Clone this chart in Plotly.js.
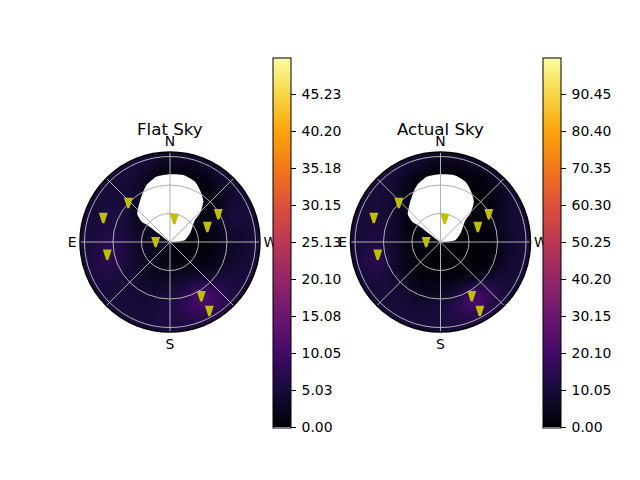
<!DOCTYPE html>
<html><head><meta charset="utf-8">
<script src="https://cdn.plot.ly/plotly-3.0.1.min.js"></script>
<style>html,body{margin:0;padding:0;background:#fff}</style></head>
<body><div id="chart" style="width:640px;height:480px"></div>
<script>
const gridAxis = [-95,-85.5,-76,-66.5,-57,-47.5,-38,-28.5,-19,-9.5,0,9.5,19,28.5,38,47.5,57,66.5,76,85.5,95];
const flatSky = [
[5,5,5,5,5,5,5,5,5,5,5,5,5,5,5,5,5,5,5,5,5],
[5,5,5,5,5,5,5,5,4,3.5,3,3,3,4,4,5,5,5,5,5,5],
[5,5,5,5,5,5,5,4,3,2,1.5,1.5,1.5,2,3,4,5,5,5,5,5],
[5,5,5,5,5,5,4.5,3,1.5,1,0.8,0.8,0.8,1,1.5,3,4,5,5,5,5],
[5,5,5,5,5,4.5,4,2.5,1,0.8,0.8,0.8,0.8,0.8,1,2,3,4,5,5,5],
[5,5,5,5,5,5,4,2,1,0.8,0.8,0.8,0.8,0.8,0.8,1.5,3,4,5,5,5],
[5,5,5,5.5,5.5,5,3.5,1.5,0.8,0.8,0.8,0.8,0.8,0.8,0.8,1.5,3.5,5,5,5,5],
[5,5,5.5,6,6,5,3.5,1.5,0.8,0.8,0.8,0.8,0.8,0.8,1,2.5,4,5.5,5,5,5],
[5,5,5.5,6,6,5,3.5,2,1,0.8,0.8,0.8,0.8,1,2,3,4,5,5,5,5],
[5,5,5.5,6,6,5,4,3,2.5,2.5,1,0.8,0.8,0.8,1,2,3,4,4,5,5],
[5,5,6,6.5,6.5,5.5,4,3,3,4,1.5,0.8,0.6,0.6,0.8,1.5,3,3.5,4,5,5],
[5,5.5,6.5,7,7,5.5,4,3,2.5,2,1.2,0.8,0.8,0.8,1,1.5,2.5,3.5,4,5,5],
[5,5.5,6.5,7.5,7,5.5,4,3,2,1.5,1.2,1.2,1.2,1.2,1.2,1.8,3,4,4.5,5,5],
[5,5.5,6,6.5,6,5,4,3,2.5,2,2,2,2.5,2.5,2.5,3,4,4.5,5,5,5],
[5,5.5,5.5,6,5.5,5,4,3.5,3,3,3,3.5,4,4.5,5,5.5,5.5,5.5,5,5,5],
[5,5,5.5,5.5,5,5,4.5,4,4,4,4.5,5,6.5,8,8,7.5,6.5,5.5,5.5,5,5],
[5,5,5,5,5,5,5,4.5,4.5,5,5.5,6,8,11,11.5,9.5,7.5,6,5.5,5,5],
[5,5,5,5,5,5,5,5,5,5.5,6,7,8.5,10,10.5,9,7,6,5,5,5],
[5,5,5,5,5,5,5,5,5.5,6,6.5,6.5,7.5,8,8,7,6,5.5,5,5,5],
[5,5,5,5,5,5,5,5,5.5,5.5,6,6,6.5,6.5,6.5,6,5.5,5,5,5,5],
[5,5,5,5,5,5,5,5,5,5,5.5,5.5,5.5,5.5,5.5,5.5,5,5,5,5,5]
];
const actualSky = [
[10,10,10,10,10,10,10,10,10,10,9,9,9,10,10,10,10,10,10,10,10],
[10,10,10,10,10,10,10,9,8,6,5,5,5,6,8,9,10,10,10,10,10],
[10,10,10,10,10,10,8,6,4,2.5,2,2,2,2.5,4,6,8,10,10,10,10],
[10,10,10,10,10,8.5,6,3,1.5,1,0.8,0.8,0.8,1,1.5,3,6,8.5,10,10,10],
[10,10,10,10,9.5,7.5,4.5,2,1,0.8,0.8,0.8,0.8,0.8,1,2,4,7,9,10,10],
[10,10,10,10,9.5,7.5,4,1.5,0.8,0.8,0.8,0.8,0.8,0.8,0.8,1.5,3.5,6.5,9,10,10],
[10,10,10,10,9,7,3.5,1,0.8,0.8,0.8,0.8,0.8,0.8,0.8,1,3.5,7,9,10,10],
[10,10,10,10.5,9.5,7,3.5,1,0.8,0.8,0.8,0.8,0.8,0.8,0.8,1.5,4,7,9,10,10],
[10,10,10.5,11,10,7,3.5,1.5,0.8,0.8,0.8,0.8,0.8,0.8,1,2,4.5,7,9,10,10],
[10,10,11,11.5,10,7,3.5,2,1.5,1.5,0.8,0.8,0.8,0.8,0.8,1.5,3.5,6,8.5,10,10],
[10,10.5,11.5,12,10,7,4,2,1.5,2,1,0.6,0.5,0.5,0.6,1,2.5,5.5,8,10,10],
[10,11,13,14,11,7.5,4,2,1.2,1,0.8,0.6,0.6,0.6,0.8,1,2.5,5.5,8.5,10,10],
[10,11.5,13.5,14.5,11.5,8,4.5,2.5,1.2,1,0.8,0.8,0.8,0.8,1,1.5,3,6.5,9,10,10],
[10,11,12.5,13,11,8,5,3,1.5,1,1,1,1.2,1.5,2,3,5,8,9.5,10,10],
[10,11,11.5,11.5,10.5,8.5,6,4,2.5,2,2,2.5,3,4,6,7.5,9,10,10,10,10],
[10,10,10.5,10.5,10,9,7.5,5.5,4,4,5,6,8,12,15,14.5,12.5,11,10.5,10,10],
[10,10,10,10,10,10,9,7.5,6,6,7,8.5,12,19,21,18,13.5,11,10.5,10,10],
[10,10,10,10,10,10,10,9.5,9,9,10,12,15,19,20,17,13,11,10,10,10],
[10,10,10,10,10,10,10,10,10,10.5,11.5,12.5,14,15,15.5,14,12,10.5,10,10,10],
[10,10,10,10,10,10,10,10,10,10.5,11,11.5,12,12.5,12.5,12,11,10.5,10,10,10],
[10,10,10,10,10,10,10,10,10,10,10,10,10.5,11,11,10.5,10,10,10,10,10]
];
const holeX = [0,15.8,21.1,26.3,31.6,35.1,32.3,26.3,14,0,-14,-24.6,-28.8,-32.3,-34.4,-29.8,-22.8,-12.3,0];
const holeY = [0,2.1,9.1,23.2,30.2,42.5,53,63.5,70.5,71.2,68.8,60,51.2,40.7,29.1,21.4,17.2,9.1,0];
const stationAz = [50.8,74.1,105.8,109.3,346.6,285,295.2,207.9,208];
const stationR = [56.6,73,68.6,16,19.5,40.7,56.2,70.3,88.2];
const flatTicks = [0,5.03,10.05,15.08,20.10,25.13,30.15,35.18,40.20,45.23];
const actualTicks = [0,10.05,20.10,30.15,40.20,50.25,60.30,70.35,80.40,90.45];
const flatMax = 50.25, actualMax = 100.5;
const titles = ["Flat Sky","Actual Sky"];
const compass = ["N","","E","","S","","W",""];
const compassAngles = [0,45,90,135,180,225,270,315];
const inferno = [[0,"#000004"],[0.1,"#160b39"],[0.2,"#420a68"],[0.3,"#6a176e"],[0.4,"#932667"],[0.5,"#bc3754"],[0.6,"#dd513a"],[0.7,"#f37819"],[0.8,"#fca50a"],[0.9,"#f6d746"],[1,"#fcffa4"]];

const FONT = "DejaVu Sans";
const W = 640, H = 480;
const panels = [
 {z:flatSky, max:flatMax, ticks:flatTicks, left:80, cbx:272.5, title:titles[0], cx:170},
 {z:actualSky, max:actualMax, ticks:actualTicks, left:350.5, cbx:542.5, title:titles[1], cx:440.5}
];
const plotTop = 152, size = 180;
let traces = [], layout = {
  width:W, height:H, margin:{l:0,r:0,t:0,b:0}, paper_bgcolor:"#fff", plot_bgcolor:"#fff",
  showlegend:false, font:{family:FONT,size:13.9,color:"#000"}, annotations:[]
};
panels.forEach((p,i)=>{
  const n = i+1, ax = n===1?"":n;
  traces.push({type:"heatmap",x:gridAxis,y:gridAxis.slice().reverse(),z:p.z,zmin:0,zmax:p.max,zsmooth:"best",
    colorscale:inferno,xaxis:"x"+ax,yaxis:"y"+ax,
    colorbar:{x:p.cbx/W,xanchor:"left",xref:"paper",y:(H-427.5)/H,yanchor:"bottom",yref:"paper",len:370/H,lenmode:"fraction",
      thickness:18,thicknessmode:"pixels",xpad:0,ypad:0,outlinecolor:"#000",outlinewidth:1,
      tickmode:"array",tickvals:p.ticks,ticktext:p.ticks.map(v=>"\u2009"+v.toFixed(2)),ticks:"outside",ticklen:5,tickwidth:1,tickcolor:"#000",
      tickfont:{family:FONT,size:13.9,color:"#000"}}});
  traces.push({type:"scatter",mode:"lines",x:holeX,y:holeY,fill:"toself",fillcolor:"#fff",line:{color:"#fff",width:0,shape:"spline",smoothing:0.6},
    xaxis:"x"+ax,yaxis:"y"+ax,hoverinfo:"skip"});
  traces.push({type:"scatter",mode:"markers",x:[0],y:[0],cliponaxis:false,
    marker:{symbol:"circle-open",size:224,color:"#fff",line:{color:"#fff",width:44}},xaxis:"x"+ax,yaxis:"y"+ax,hoverinfo:"skip"});
  traces.push({type:"scatterpolar",mode:"markers",r:stationR,theta:stationAz,subplot:"polar"+ax,
    marker:{symbol:"arrow",angle:180,size:9.5,color:"#bfbf00",line:{color:"#bfbf00",width:2.2}}});
  const dx=[p.left/W,(p.left+size)/W], dy=[(H-plotTop-size)/H,(H-plotTop)/H];
  layout["xaxis"+ax]={domain:dx,range:[-94.7,94.7],visible:false,fixedrange:true};
  layout["yaxis"+ax]={domain:dy,range:[-94.7,94.7],visible:false,fixedrange:true};
  layout["polar"+ax]={domain:{x:dx,y:dy},bgcolor:"rgba(0,0,0,0)",
    radialaxis:{range:[0,94.7],tickvals:[30,60,90],showticklabels:false,ticks:"",showline:false,gridcolor:"#b0b0b0",gridwidth:1},
    angularaxis:{rotation:90,direction:"counterclockwise",tickmode:"array",tickvals:compassAngles,ticktext:compass,ticks:"",
      gridcolor:"#b0b0b0",gridwidth:1,linecolor:"#000",linewidth:1.5,tickfont:{family:FONT,size:13.9,color:"#000"}}};
  layout.annotations.push({text:p.title,xref:"paper",yref:"paper",x:p.cx/W,y:(H-141)/H,xanchor:"center",yanchor:"bottom",showarrow:false,
    font:{family:FONT,size:16.67,color:"#000"}});
});
Plotly.newPlot("chart",traces,layout,{staticPlot:true,displayModeBar:false});
</script></body></html>
